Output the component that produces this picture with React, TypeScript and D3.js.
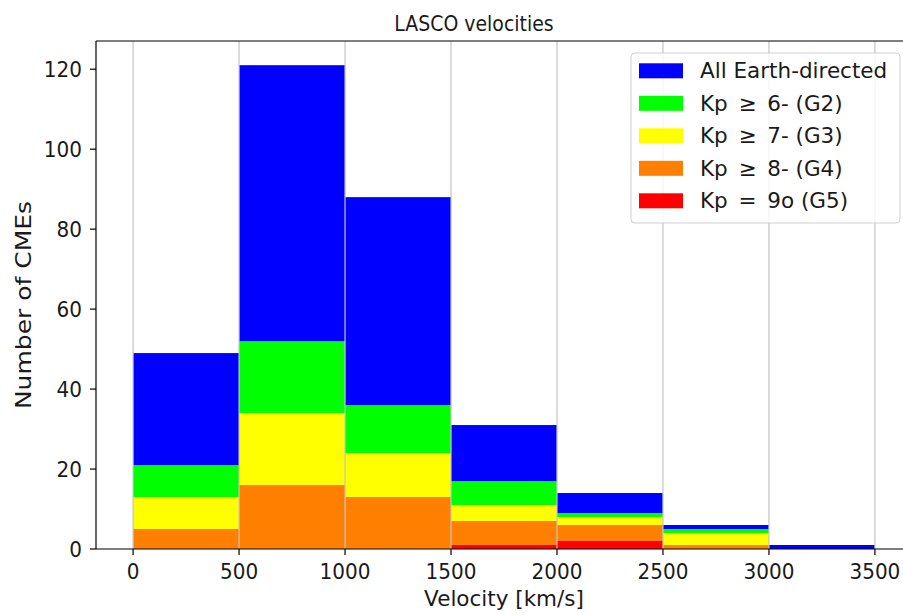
import React from "react";
import * as d3 from "d3";

const binStarts = [0, 500, 1000, 1500, 2000, 2500, 3000];
const binWidth = 500;
const allEarth = [49, 121, 88, 31, 14, 6, 1];
const kp6 = [21, 52, 36, 17, 9, 5, 0];
const kp7 = [13, 34, 24, 11, 8, 4, 0];
const kp8 = [5, 16, 13, 7, 6, 1, 0];
const kp9 = [0, 0, 0, 1, 2, 0, 0];

const seriesNames = [
  "All Earth-directed",
  "Kp\u2002≥\u20026- (G2)",
  "Kp\u2002≥\u20027- (G3)",
  "Kp\u2002≥\u20028- (G4)",
  "Kp\u2002=\u20029o (G5)",
];
const seriesColors = ["#0000ff", "#00ff00", "#ffff00", "#ff8000", "#ff0000"];
const seriesValues = [allEarth, kp6, kp7, kp8, kp9];

const xTicks = [0, 500, 1000, 1500, 2000, 2500, 3000, 3500];
const yTicks = [0, 20, 40, 60, 80, 100, 120];

const W = 903;
const H = 615;
const FONT = "'DejaVu Sans', sans-serif";
const INK = "#1a1a1a";

function T({ x, y, size, sx = 1, anchor = "start", rotate = 0, children }: any) {
  return (
    <g transform={`translate(${x},${y}) scale(${sx},1) rotate(${rotate})`}>
      <text x={0} y={0} textAnchor={anchor} fontFamily={FONT} fontSize={size} fill={INK}>
        {children}
      </text>
    </g>
  );
}

export default function App() {
  const left = 96, right = 912, top = 41, bottom = 549;
  const x = d3.scaleLinear().domain([-175, 3675]).range([left, right]);
  const y = d3.scaleLinear().domain([0, 127.05]).range([bottom, top]);

  return (
    <div style={{ position: "absolute", left: 0, top: 0 }}>
      <svg width={W} height={H} style={{ display: "block", background: "#fff" }}>
        <rect x={0} y={0} width={W} height={H} fill="#fff" />
        {seriesValues.map((vals, si) => (
          <g key={si}>
            {vals.map((v, i) =>
              v > 0 ? (
                <rect
                  key={i}
                  x={x(binStarts[i])}
                  y={y(v)}
                  width={x(binStarts[i] + binWidth) - x(binStarts[i])}
                  height={y(0) - y(v)}
                  fill={seriesColors[si]}
                />
              ) : null
            )}
          </g>
        ))}
        {xTicks.map((t) => (
          <line key={t} x1={x(t)} x2={x(t)} y1={top} y2={bottom} stroke="#c4c4c4" strokeWidth={1.2} />
        ))}
        <line x1={left} x2={W} y1={top} y2={top} stroke="#000" strokeWidth={1.2} />
        <line x1={left} x2={left} y1={top} y2={bottom} stroke="#000" strokeWidth={1.2} />
        <line x1={left} x2={W} y1={bottom} y2={bottom} stroke="#000" strokeWidth={1.2} />
        {xTicks.map((t) => (
          <g key={t}>
            <line x1={x(t)} x2={x(t)} y1={bottom} y2={bottom + 6} stroke="#000" strokeWidth={1.2} />
            <T x={x(t)} y={578.5} size={21.5} sx={0.93} anchor="middle">{t}</T>
          </g>
        ))}
        {yTicks.map((t) => (
          <g key={t}>
            <line x1={left - 6} x2={left} y1={y(t)} y2={y(t)} stroke="#000" strokeWidth={1.2} />
            <T x={82} y={y(t) + 7.8} size={21.5} sx={0.93} anchor="end">{t}</T>
          </g>
        ))}
        <T x={474} y={31} size={21} sx={0.9} anchor="middle">LASCO velocities</T>
        <T x={504} y={606} size={21.5} anchor="middle">Velocity [km/s]</T>
        <T x={31} y={305} size={25} sx={0.85} anchor="middle" rotate={-90}>Number of CMEs</T>
        <rect x={631} y={53} width={269} height={170} rx={4} fill="#fff" fillOpacity={0.8} stroke="#d0d0d0" strokeWidth={1} />
        {seriesNames.map((name, i) => (
          <g key={i}>
            <rect x={639} y={63.3 + i * 32.5} width={44} height={15} fill={seriesColors[i]} />
            <T x={700} y={78.3 + i * 32.5} size={21.5}>{name}</T>
          </g>
        ))}
      </svg>
    </div>
  );
}
